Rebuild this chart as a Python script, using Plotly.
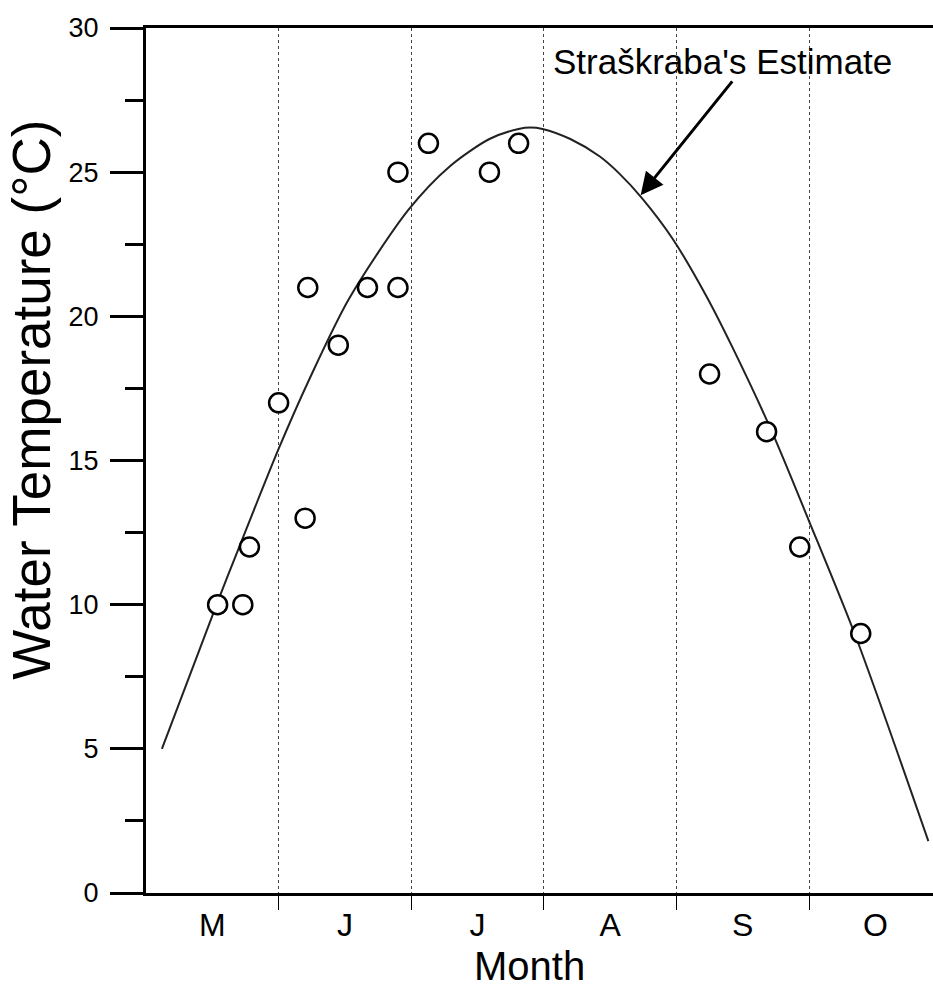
import plotly.graph_objects as go

# Month labels (x in months since 1 May)
month_labels = ["M", "J", "J", "A", "S", "O"]
month_centres = [0.5, 1.5, 2.5, 3.5, 4.5, 5.5]
month_bounds = [1, 2, 3, 4, 5]

# Observed water temperatures
obs_month = [0.54, 0.73, 0.78, 1.00, 1.20, 1.22, 1.45, 1.67, 1.90, 1.90,
             2.13, 2.59, 2.81, 4.25, 4.68, 4.93, 5.39]
obs_temp = [10, 10, 12, 17, 13, 21, 19, 21, 21, 25,
            26, 25, 26, 18, 16, 12, 9]

# Straškraba's estimate
est_month = [0.12, 0.54, 0.66, 1.00, 1.23, 1.53, 1.98, 2.29, 2.59, 2.81,
             2.90, 2.99, 3.20, 3.42, 3.57, 3.74, 3.97, 4.22, 4.42, 4.72,
             5.00, 5.36, 5.90]
est_temp = [5.0, 10.1, 11.5, 15.4, 17.8, 20.6, 23.7, 25.2, 26.15, 26.5,
            26.55, 26.5, 26.15, 25.55, 24.95, 24.1, 22.7, 20.75, 18.95, 16.0,
            12.9, 8.8, 1.8]

fig = go.Figure()
fig.add_trace(go.Scatter(x=est_month, y=est_temp, mode="lines",
                         line=dict(color="#222", width=2, shape="spline",
                                   smoothing=0.8),
                         showlegend=False, hoverinfo="skip"))
fig.add_trace(go.Scatter(x=obs_month, y=obs_temp, mode="markers",
                         marker=dict(symbol="circle", size=19, color="white",
                                     line=dict(color="black", width=2.5)),
                         showlegend=False))
# invisible helper so the label axis is drawn
fig.add_trace(go.Scatter(x=month_centres, y=[None] * len(month_centres),
                         xaxis="x2", mode="markers", showlegend=False,
                         hoverinfo="skip"))

font_family = "Liberation Sans, Arial, sans-serif"
x_range = [0, 5.935]

fig.update_layout(
    width=933, height=998,
    margin=dict(l=146, r=0, t=28, b=105),
    plot_bgcolor="white", paper_bgcolor="white",
    font=dict(family=font_family, color="black"),
    xaxis=dict(range=x_range, showline=True, linecolor="black", linewidth=3,
               mirror=True, zeroline=False,
               tickvals=month_bounds, ticktext=[""] * len(month_bounds),
               ticks="outside", ticklen=14, tickwidth=1, tickcolor="black",
               showgrid=True, griddash="dot", gridcolor="#444", gridwidth=1),
    xaxis2=dict(range=x_range, overlaying="x", side="bottom", anchor="y",
                showline=False, showgrid=False, zeroline=False,
                tickvals=month_centres, ticktext=month_labels, ticks="",
                tickfont=dict(size=32), ticklabelstandoff=10),
    yaxis=dict(range=[0, 30], showline=True, linecolor="black", linewidth=3,
               showgrid=False, zeroline=False,
               tickvals=[0, 5, 10, 15, 20, 25, 30], ticks="outside",
               ticklen=33, tickwidth=3, tickcolor="black",
               tickfont=dict(size=27), ticklabelstandoff=6,
               minor=dict(tick0=0, dtick=2.5, ticks="outside", ticklen=18,
                          tickwidth=3, tickcolor="black", showgrid=False)),
    annotations=[
        dict(text="Water Temperature (°C)", xref="paper", yref="paper",
             x=-0.145, y=0.57, textangle=-90, showarrow=False,
             font=dict(size=53), xanchor="center", yanchor="middle"),
        dict(text="Month", xref="paper", yref="paper", x=0.487, y=-0.084,
             showarrow=False, font=dict(size=40), xanchor="center",
             yanchor="middle"),
        dict(text="Straškraba's Estimate", xref="x", yref="y", x=4.35, y=28.85,
             showarrow=False, font=dict(size=35), xanchor="center",
             yanchor="middle"),
        dict(text="", xref="x", yref="y", x=3.73, y=24.2,
             axref="x", ayref="y", ax=4.43, ay=28.2, showarrow=True,
             arrowhead=2, arrowsize=1.5, arrowwidth=3, arrowcolor="black"),
    ],
)

fig.write_html("out.html")
